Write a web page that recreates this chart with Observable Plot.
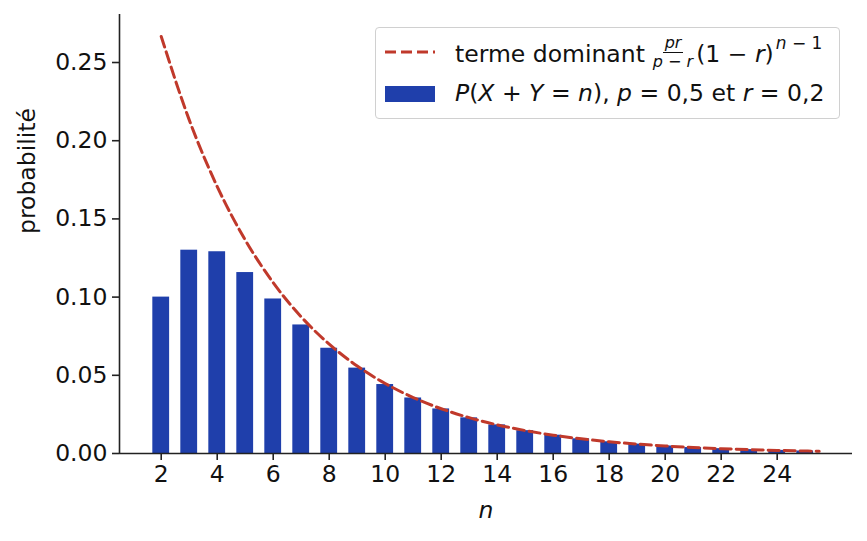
<!DOCTYPE html>
<html>
<head>
<meta charset="utf-8">
<script src="https://cdn.jsdelivr.net/npm/d3@7"></script>
<script src="https://cdn.jsdelivr.net/npm/@observablehq/plot@0.6"></script>
<style>
  html, body { margin: 0; padding: 0; background: #fff; }
  #wrap { position: relative; width: 867px; height: 541px; font-family: "DejaVu Sans", sans-serif; color: #111; }
  #chart { position: absolute; left: 0; top: 0; }
  #legendbox {
    position: absolute; left: 375px; top: 27px; width: 465px; height: 92px;
    border: 1.5px solid #d0d0d0; border-radius: 4px; background: rgba(255,255,255,0.85);
    box-sizing: border-box;
  }
  .lt { position: absolute; left: 455px; font-size: 23.5px; white-space: nowrap; line-height: 1; }
  .frac { display: inline-flex; flex-direction: column; align-items: center; font-size: 16px; line-height: 1; vertical-align: middle; margin: 0 3px 0 8px; position: relative; top: -3px; }
  .frac .num { border-bottom: 1.2px solid #111; padding: 0 2px 1px; }
  .frac .den { padding-top: 1px; }
  i { font-style: italic; }
  sup { font-size: 17px; position: relative; top: -4px; vertical-align: super; line-height: 0; margin-left: 2px; }
</style>
</head>
<body>
<div id="wrap">
  <div id="chart"></div>
  <div id="legendbox"></div>
  <svg style="position:absolute; left:0; top:0" width="867" height="541">
    <line x1="385" y1="52" x2="435" y2="52" stroke="#c0392b" stroke-width="3" stroke-dasharray="11,5"/>
    <rect x="385" y="86" width="50" height="16" fill="#1f3fab"/>
  </svg>
  <div class="lt" style="top:38px;">terme dominant<span class="frac"><span class="num"><i>pr</i></span><span class="den"><i>p</i> − <i>r</i></span></span>(1 − <i>r</i>)<sup><i>n</i> − 1</sup></div>
  <div class="lt" style="top:82px;"><i>P</i>(<i>X</i> + <i>Y</i> = <i>n</i>), <i>p</i> = 0,5 et <i>r</i> = 0,2</div>
</div>
<script>
// Bar data: n and P(X+Y=n)
const nValues = [2,3,4,5,6,7,8,9,10,11,12,13,14,15,16,17,18,19,20,21,22,23,24,25];
const probValues = [0.1000,0.1300,0.1290,0.1157,0.0988,0.0822,0.0673,0.0546,0.0441,0.0355,0.0285,0.0228,0.0183,0.0146,0.0117,0.0094,0.0075,0.0060,0.0048,0.0038,0.0031,0.0025,0.0020,0.0016];
// Dominant term curve samples
const curveN = [2,3,4,5,6,7,8,9,10,11,12,13,14,15,16,17,18,19,20,21,22,23,24,25,25.5];
const curveValues = [0.26667,0.21333,0.17067,0.13653,0.10923,0.08738,0.06991,0.05592,0.04474,0.03579,0.02863,0.02291,0.01833,0.01466,0.01173,0.00938,0.00751,0.00600,0.00480,0.00384,0.00307,0.00246,0.00197,0.00157,0.00141];
const xTicks = [2,4,6,8,10,12,14,16,18,20,22,24];
const yTicks = [0,0.05,0.10,0.15,0.20,0.25];

const bars = nValues.map((n, i) => ({n, p: probValues[i]}));
const curve = curveN.map((n, i) => ({n, v: curveValues[i]}));
const xDom = [0.51, 26.69];
const yDom = [0, 0.2807];
const FS = 23.5;

const chart = Plot.plot({
  width: 867,
  height: 541,
  marginLeft: 119,
  marginRight: 15,
  marginTop: 14,
  marginBottom: 88,
  style: {fontFamily: "DejaVu Sans, sans-serif", fontSize: FS + "px", color: "#111", background: "transparent"},
  x: {domain: xDom},
  y: {domain: yDom},
  marks: [
    Plot.rectY(bars, {x1: d => d.n - 0.3, x2: d => d.n + 0.3, y1: 0, y2: "p", fill: "#1f3fab"}),
    Plot.line(curve, {x: "n", y: "v", stroke: "#c0392b", strokeWidth: 3, strokeDasharray: "11,5", curve: "monotone-x"}),
    Plot.ruleY([0], {x1: xDom[0], x2: xDom[1], stroke: "#222", strokeWidth: 1.6}),
    Plot.ruleX([xDom[0]], {y1: yDom[0], y2: yDom[1], stroke: "#222", strokeWidth: 1.6}),
    Plot.axisX(xTicks, {tickSize: 7, tickPadding: 5, fontSize: FS, stroke: "#222", strokeWidth: 1.6, fill: "#111", label: null}),
    Plot.axisY(yTicks, {tickSize: 7, tickPadding: 5, fontSize: FS, stroke: "#222", strokeWidth: 1.6, fill: "#111", tickFormat: d3.format(".2f"), label: null}),
    Plot.text(["n"], {frameAnchor: "bottom", dy: 64, fontSize: FS, fontStyle: "italic", fill: "#111"}),
    Plot.text(["probabilité"], {frameAnchor: "left", dx: -92, rotate: -90, fontSize: FS, fill: "#111"})
  ]
});
document.getElementById("chart").appendChild(chart);
</script>
</body>
</html>
